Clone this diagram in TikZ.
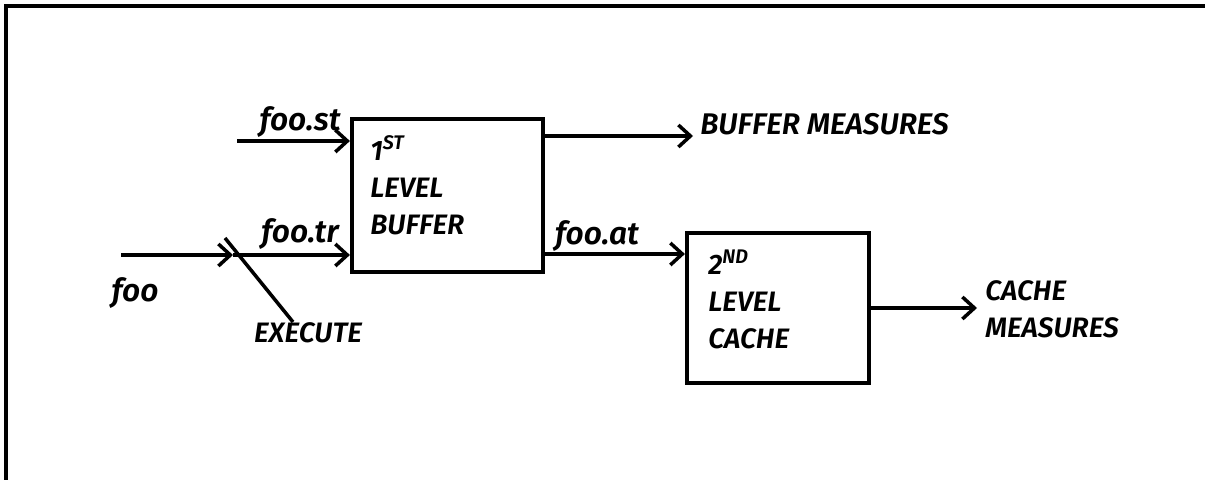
\documentclass[tikz,border=0pt]{standalone}
\usepackage{fontspec}
\setmainfont{Fira Sans}[BoldFont={Fira Sans SemiBold}, BoldItalicFont={Fira Sans SemiBold Italic}]
\usetikzlibrary{arrows.meta, positioning, calc}

\begin{document}
\begin{tikzpicture}[
    x=0.02cm, y=-0.02cm,
    every node/.style={font=\fontsize{16}{21}\selectfont\bfseries\itshape, inner sep=0pt},
    blockbox/.style={draw, line width=2.4pt, minimum width=3.82cm, minimum height=3.06cm},
    flow/.style={draw, line width=2pt, -{Straight Barb[length=2.4mm, width=4.4mm, line width=2pt]}},
    wire/.style={draw, line width=2pt},
    tag/.style={font=\fontsize{18}{21}\selectfont\bfseries\itshape, anchor=south},
    boxtext/.style={align=left, anchor=north west}
]
\useasboundingbox (0,0) rectangle (1205,480);
% frame
\draw[line width=1.8pt] (6,480) -- (6,6) -- (1205,6);

% blocks
\node[blockbox] (buf) at (447.5,195.5) {};
\node[blockbox, minimum width=3.64cm, minimum height=3cm] (cache) at (778,308) {};
\node[boxtext] (buftxt) at (370,135) {1\textsuperscript{ST}\\LEVEL\\BUFFER};
\node[boxtext] (cachetxt) at (708,250) {2\textsuperscript{ND}\\LEVEL\\CACHE};

% inputs
\coordinate (stin) at (237,141);
\coordinate (fooin) at (121,255);
\coordinate (exec) at (233,255);
\coordinate (exectop) at (225,238);
\draw[flow] (stin) -- (stin -| buf.west);
\draw[flow] (fooin) -- (exec);
\draw[flow] (exec) -- (exec -| buf.west);
\node[tag] (st) at (300,138) {foo.st};
\node[tag] (tr) at (300,250) {foo.tr};
\node[tag, anchor=north] (foo) at (135,277) {foo};
\node[anchor=north] (execlbl) at (308,322) {EXECUTE};
\draw[wire] (exectop) -- ([xshift=-0.3cm]execlbl.north);

% outputs
\coordinate (bufout) at (543,136);
\coordinate (bufend) at (693,136);
\draw[flow] (bufout) -- (bufend);
\node[anchor=west, font=\fontsize{17}{21}\selectfont\bfseries\itshape] (bufm) at (700,124) {BUFFER MEASURES};
\coordinate (atout) at (543,254);
\draw[flow] (atout) -- (atout -| cache.west);
\node[tag] (at) at (597,252) {foo.at};
\coordinate (cacheend) at (977,308);
\draw[flow] (cache.east) -- (cacheend);
\node[anchor=west, align=left] (cachem) at (985,309) {CACHE\\MEASURES};
\end{tikzpicture}
\end{document}
